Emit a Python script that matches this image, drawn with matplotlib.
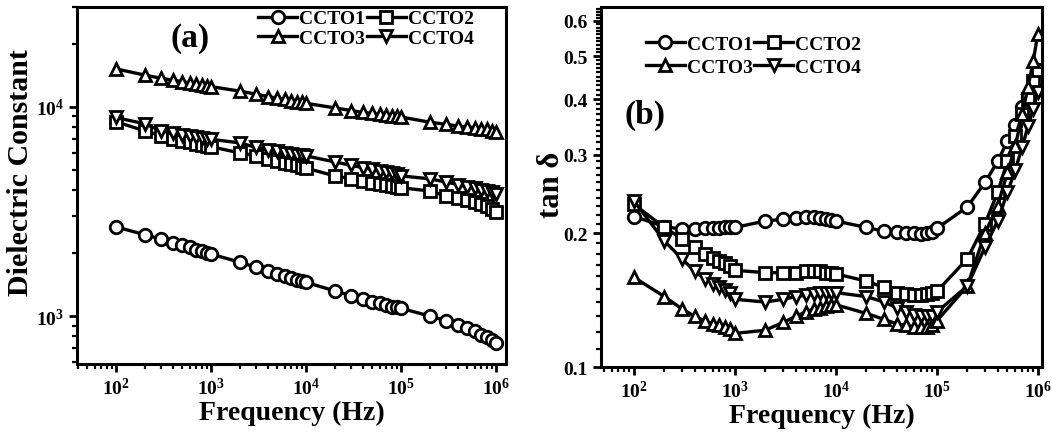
import matplotlib
matplotlib.use('Agg')
import matplotlib.pyplot as plt
from matplotlib.ticker import FixedLocator, FormatStrFormatter, NullFormatter, LogLocator

# Font chữ kiểu Times đậm
plt.rcParams['font.family'] = ['Liberation Serif', 'DejaVu Serif']
plt.rcParams['font.weight'] = 'bold'
plt.rcParams['mathtext.fontset'] = 'custom'
plt.rcParams['mathtext.rm'] = 'Liberation Serif:bold'
plt.rcParams['mathtext.it'] = 'Liberation Serif:bold'
plt.rcParams['mathtext.bf'] = 'Liberation Serif:bold'

# Dữ liệu tần số (Hz)
freq = [100, 200, 300, 400, 500, 600, 700, 800, 900,
        1000, 2000, 3000, 4000, 5000, 6000, 7000, 8000, 9000,
        10000, 20000, 30000, 40000, 50000, 60000, 70000, 80000, 90000,
        100000, 200000, 300000, 400000, 500000, 600000, 700000, 800000, 900000,
        1000000]

labels = ['CCTO1', 'CCTO2', 'CCTO3', 'CCTO4']
markers = ['o', 's', '^', 'v']

# (a) Hằng số điện môi
eps_1 = [2670, 2450, 2330, 2240, 2180, 2130, 2080, 2040, 2010,
         1980, 1810, 1710, 1640, 1590, 1550, 1520, 1490, 1470,
         1450, 1320, 1250, 1200, 1170, 1150, 1130, 1110, 1100,
         1090, 1000, 950, 910, 875, 845, 815, 790, 765,
         745]
eps_2 = [8500, 7680, 7280, 7050, 6900, 6780, 6680, 6600, 6530,
         6450, 6030, 5830, 5650, 5500, 5400, 5320, 5250, 5180,
         5100, 4680, 4530, 4420, 4340, 4280, 4230, 4190, 4150,
         4110, 3960, 3750, 3650, 3580, 3500, 3430, 3350, 3250,
         3150]
eps_3 = [15200, 14200, 13700, 13400, 13200, 13000, 12850, 12700, 12600,
         12500, 11900, 11500, 11200, 11000, 10850, 10700, 10600, 10500,
         10400, 9900, 9600, 9400, 9300, 9200, 9100, 9050, 9000,
         8950, 8450, 8250, 8100, 8000, 7950, 7850, 7800, 7700,
         7600]
eps_4 = [8900, 8300, 7680, 7500, 7350, 7250, 7150, 7100, 7050,
         7000, 6730, 6400, 6250, 6150, 6050, 5980, 5920, 5870,
         5830, 5460, 5250, 5120, 5030, 4950, 4890, 4840, 4790,
         4680, 4530, 4370, 4250, 4150, 4080, 4020, 3960, 3900,
         3840]

# (b) tan delta
tan_1 = [0.218, 0.207, 0.204, 0.204, 0.205, 0.205, 0.205, 0.206, 0.206,
         0.206, 0.213, 0.215, 0.216, 0.217, 0.217, 0.216, 0.215, 0.214,
         0.213, 0.206, 0.202, 0.201, 0.200, 0.200, 0.199, 0.200, 0.201,
         0.205, 0.229, 0.260, 0.290, 0.322, 0.351, 0.384, 0.405, 0.425,
         0.445]
tan_2 = [0.232, 0.206, 0.194, 0.186, 0.180, 0.176, 0.173, 0.171, 0.169,
         0.165, 0.163, 0.163, 0.163, 0.164, 0.164, 0.164, 0.163, 0.163,
         0.162, 0.156, 0.151, 0.147, 0.146, 0.145, 0.145, 0.146, 0.147,
         0.148, 0.175, 0.210, 0.247, 0.290, 0.330, 0.370, 0.400, 0.440,
         0.465]
tan_3 = [0.159, 0.144, 0.135, 0.130, 0.127, 0.125, 0.124, 0.123, 0.122,
         0.119, 0.121, 0.126, 0.130, 0.133, 0.135, 0.136, 0.137, 0.138,
         0.138, 0.132, 0.128, 0.125, 0.124, 0.123, 0.123, 0.123, 0.124,
         0.127, 0.152, 0.200, 0.230, 0.274, 0.314, 0.370, 0.426, 0.487,
         0.560]
tan_4 = [0.236, 0.192, 0.175, 0.164, 0.158, 0.154, 0.151, 0.149, 0.147,
         0.142, 0.140, 0.142, 0.144, 0.145, 0.146, 0.147, 0.147, 0.147,
         0.147, 0.144, 0.140, 0.136, 0.133, 0.131, 0.130, 0.130, 0.130,
         0.133, 0.152, 0.186, 0.213, 0.247, 0.278, 0.312, 0.348, 0.380,
         0.415]

fig = plt.figure(figsize=(10.51, 4.39), dpi=100)
ax1 = fig.add_axes([0.0733, 0.1686, 0.408, 0.813])
ax2 = fig.add_axes([0.5718, 0.1617, 0.4196, 0.820])


def style_axis(ax):
    for s in ax.spines.values():
        s.set_linewidth(2.2)
    ax.tick_params(which='major', direction='out', length=6, width=2,
                   labelsize=14, top=False, right=False)
    ax.tick_params(which='minor', direction='out', length=3.5, width=1.6,
                   top=False, right=False)
    ax.xaxis.set_minor_locator(LogLocator(base=10, subs=range(2, 10), numticks=20))
    ax.set_xlabel('Frequency (Hz)', fontsize=20, fontweight='bold', labelpad=1)


def draw(ax, series):
    for y, lab, m in zip(series, labels, markers):
        ax.plot(freq, y, color='black', lw=2.4, marker=m, markersize=9,
                markerfacecolor='white', markeredgecolor='black',
                markeredgewidth=2, label=lab)


def add_legend(ax, anchor, spacing):
    # thứ tự hàng: CCTO1 CCTO2 / CCTO3 CCTO4
    h, l = ax.get_legend_handles_labels()
    order = [0, 2, 1, 3]
    ax.legend([h[i] for i in order], [l[i] for i in order], ncol=2,
              loc='upper left', bbox_to_anchor=anchor, frameon=False,
              fontsize=14, handlelength=2.0, handletextpad=0.1,
              columnspacing=0.1, labelspacing=spacing, borderpad=0.1)


# Đồ thị (a)
draw(ax1, [eps_1, eps_2, eps_3, eps_4])
ax1.set_xscale('log')
ax1.set_yscale('log')
ax1.set_xlim(39, 1.27e6)
ax1.set_ylim(590, 30000)
style_axis(ax1)
ax1.yaxis.set_minor_locator(LogLocator(base=10, subs=range(2, 10), numticks=20))
ax1.yaxis.set_minor_formatter(NullFormatter())
ax1.set_ylabel('Dielectric Constant', fontsize=21.5, fontweight='bold')
ax1.yaxis.set_label_coords(-0.10, 0.54)
ax1.text(0.263, 0.915, '(a)', transform=ax1.transAxes, fontsize=24,
         fontweight='bold', ha='center', va='center')
add_legend(ax1, (0.395, 1.025), 0.08)

# Đồ thị (b)
draw(ax2, [tan_1, tan_2, tan_3, tan_4])
ax2.set_xscale('log')
ax2.set_yscale('log')
ax2.set_xlim(47, 1.1e6)
ax2.set_ylim(0.1, 0.645)
style_axis(ax2)
ax2.yaxis.set_major_locator(FixedLocator([0.1, 0.2, 0.3, 0.4, 0.5, 0.6]))
ax2.yaxis.set_major_formatter(FormatStrFormatter('%.1f'))
minor_y = [i / 100 for i in range(11, 65) if i % 10 != 0]
ax2.yaxis.set_minor_locator(FixedLocator(minor_y))
ax2.yaxis.set_minor_formatter(NullFormatter())
ax2.set_ylabel('tan δ', fontsize=22, fontweight='bold')
ax2.yaxis.set_label_coords(-0.08, 0.51)
ax2.text(0.10, 0.703, '(b)', transform=ax2.transAxes, fontsize=24,
         fontweight='bold', ha='center', va='center')
add_legend(ax2, (0.075, 0.955), 0.3)

fig.savefig('out.png', dpi=100)
